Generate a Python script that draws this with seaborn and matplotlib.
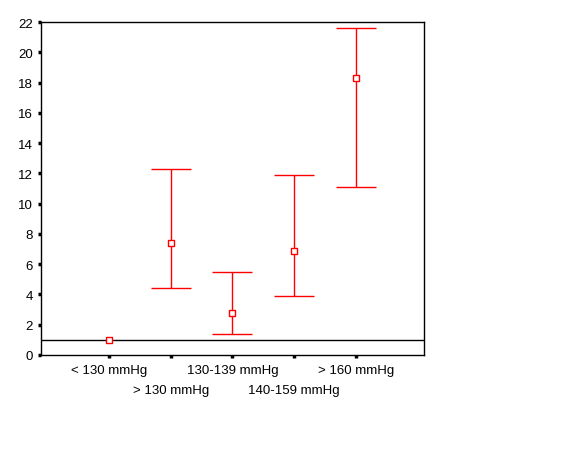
import numpy as np
import pandas as pd
import seaborn as sns
import matplotlib
matplotlib.use("Agg")
import matplotlib.pyplot as plt

# data
groups = ["< 130 mmHg", "> 130 mmHg", "130-139 mmHg", "140-159 mmHg", "> 160 mmHg"]
estimate = [1.0, 7.38, 2.75, 6.85, 18.27]
ci_low = [np.nan, 4.40, 1.37, 3.88, 11.08]
ci_high = [np.nan, 12.26, 5.46, 11.87, 21.58]
y_ticks = list(range(0, 23, 2))

df = pd.DataFrame({"group": groups, "est": estimate, "lo": ci_low, "hi": ci_high})
df["pos"] = np.arange(len(df))

sns.set_style("white")
plt.rcParams["font.family"] = ["Liberation Sans", "DejaVu Sans"]

fig = plt.figure(figsize=(5.65, 4.52), dpi=100)
ax = fig.add_axes([0.0726, 0.2124, 0.6778, 0.7367])

# reference line at 1
ax.axhline(1, color="black", lw=1.0, zorder=1)

# confidence intervals
ci = df.dropna()
ax.errorbar(
    ci["pos"], ci["est"],
    yerr=[ci["est"] - ci["lo"], ci["hi"] - ci["est"]],
    fmt="none", ecolor="#ff0000", elinewidth=1.0, capsize=14.5, capthick=1.0,
    zorder=2,
)

# point estimates
sns.scatterplot(
    data=df, x="pos", y="est", marker="s", s=20,
    facecolor="white", edgecolor="#ff0000", linewidth=1.0, ax=ax, zorder=3,
)

ax.set_xlim(-1.1, 5.1)
ax.set_ylim(0, 22)
ax.set_yticks(y_ticks)
ax.set_xticks(df["pos"])
ax.set_xticklabels(groups)
ax.set_xlabel("")
ax.set_ylabel("")

ax.tick_params(axis="both", direction="out", length=2.5, width=2.5,
               color="black", labelsize=9.5, labelcolor="black",
               bottom=True, left=True)
ax.tick_params(axis="y", pad=3.5)
ax.tick_params(axis="x", pad=4)
for i, tick in enumerate(ax.xaxis.get_major_ticks()):
    if i % 2 == 1:
        tick.set_pad(18.5)

for side in ["left", "right", "top", "bottom"]:
    ax.spines[side].set_visible(True)
    ax.spines[side].set_color("black")
    ax.spines[side].set_linewidth(1.0)

fig.savefig("out.png", dpi=100, facecolor="white")
